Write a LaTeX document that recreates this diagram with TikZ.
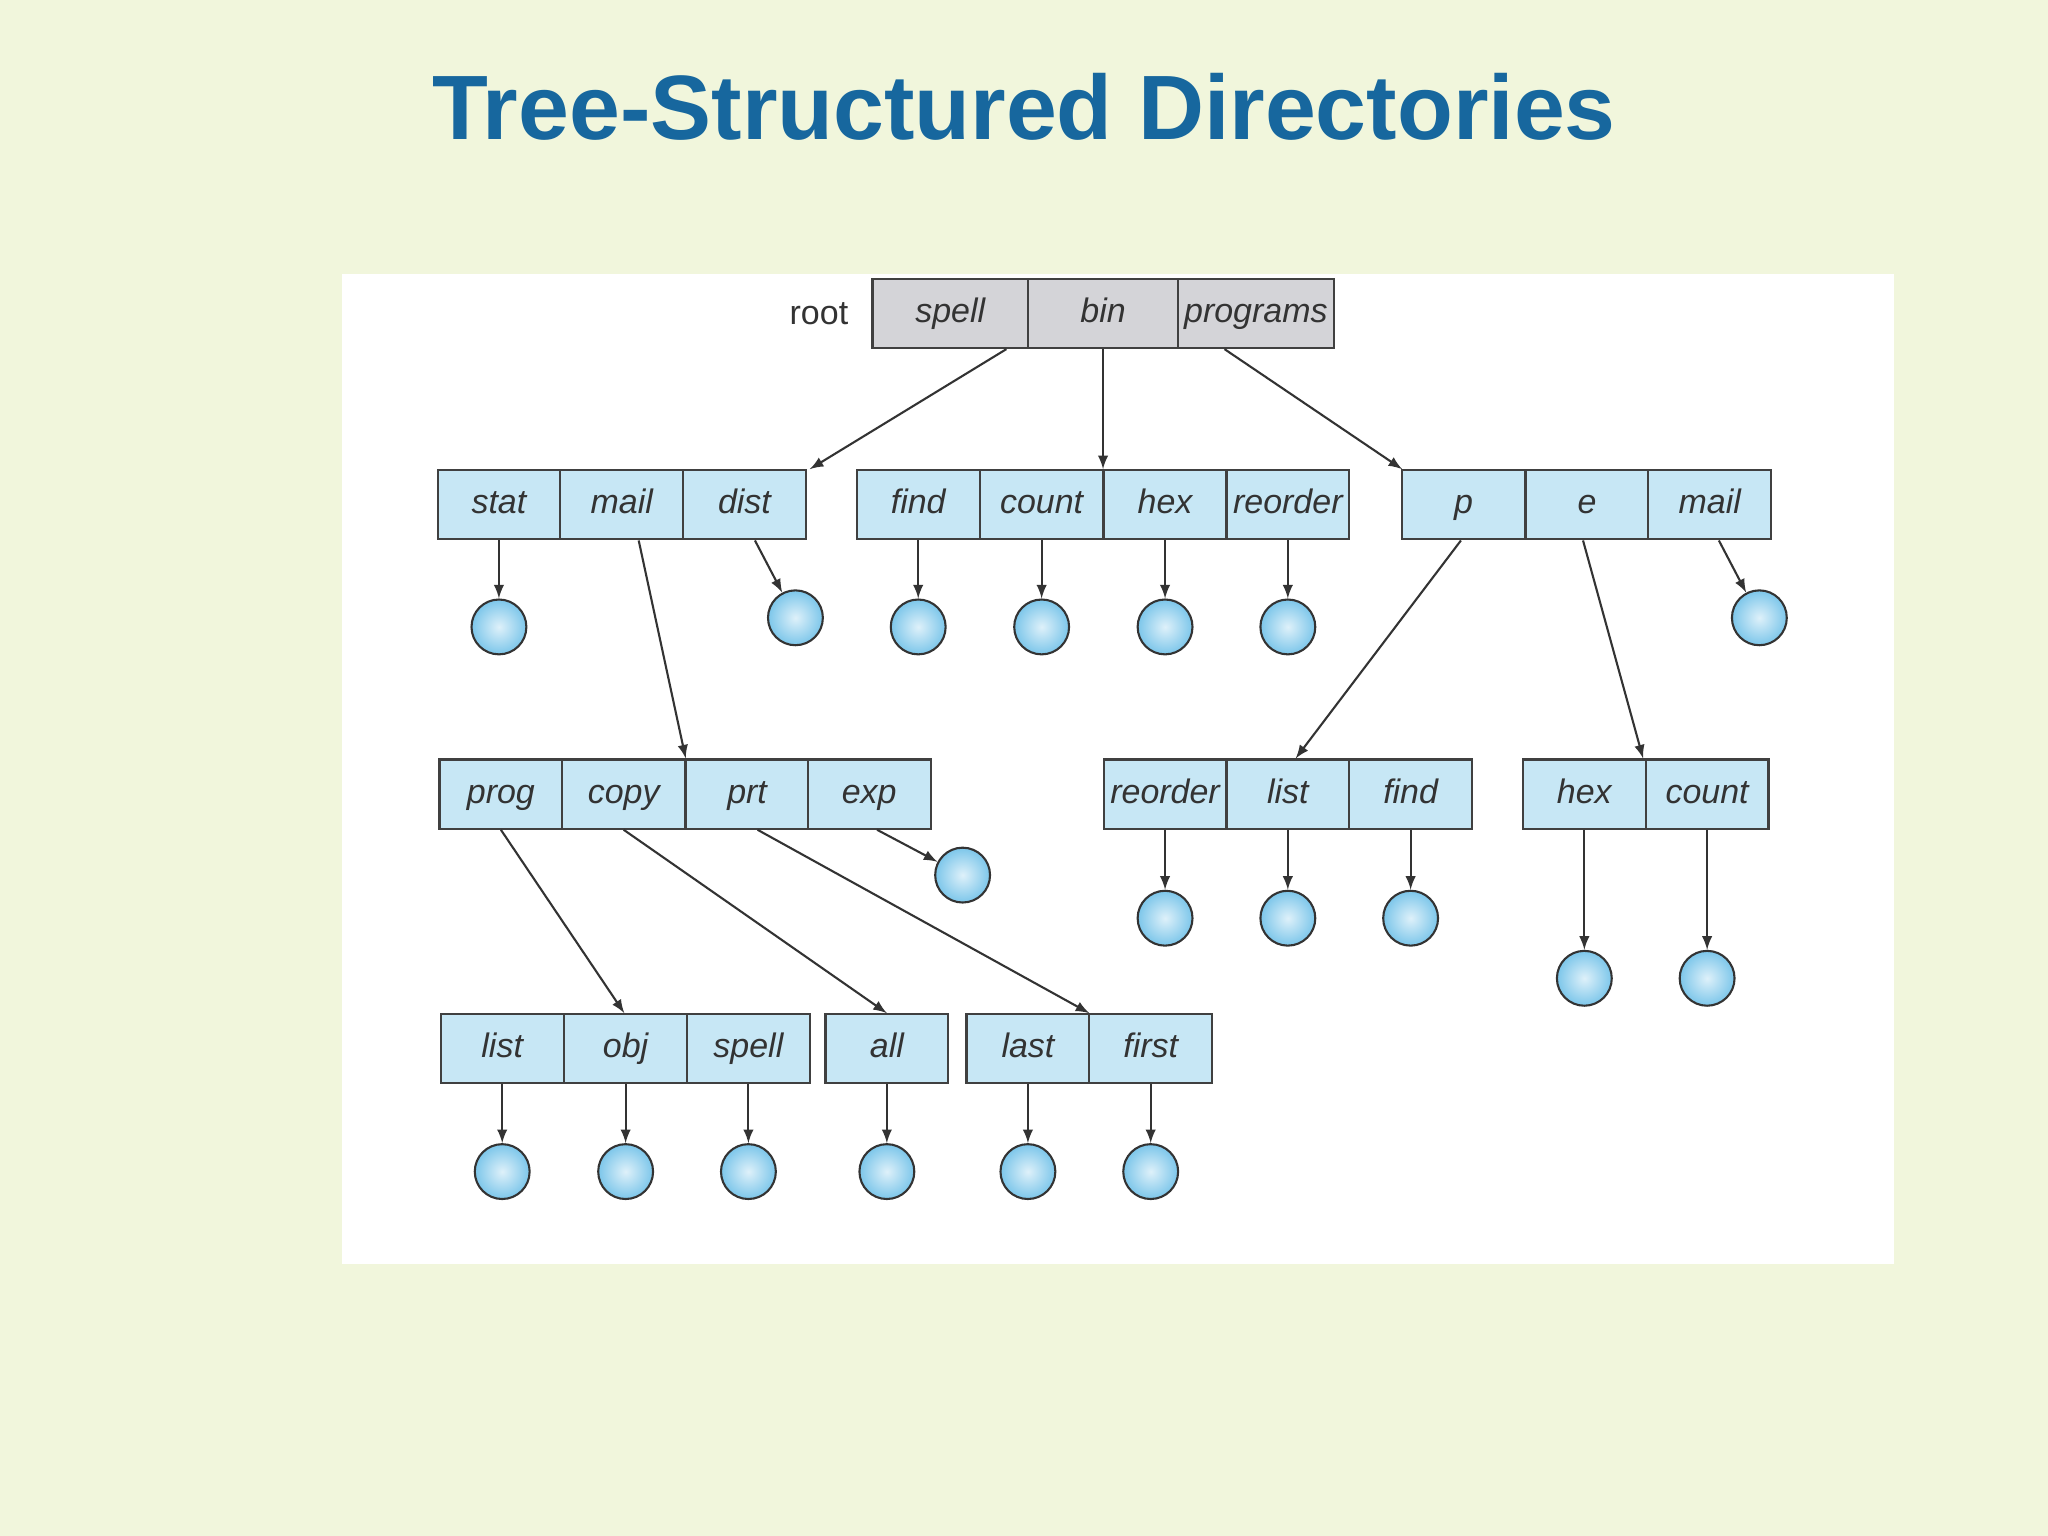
\documentclass[tikz,border=0pt]{standalone}
\usepackage{fontspec}
\setmainfont{Liberation Sans}
\usetikzlibrary{calc}
\definecolor{bgGreen}{HTML}{F1F6DC}
\definecolor{titleBlue}{HTML}{17679E}
\definecolor{cellBlue}{HTML}{C7E7F5}
\definecolor{fileBlue}{HTML}{7CC6EA}
\definecolor{rootGray}{HTML}{D4D4D8}
\tikzset{
  cell/.style={draw=black!75, line width=0.8pt, fill=cellBlue, minimum height=26.5pt,
    inner sep=0pt, text height=9.5pt, text depth=2.5pt,
    font=\itshape\fontsize{13}{13}\selectfont, text=black!80},
  rcell/.style={cell, fill=rootGray},
  file/.style={circle, draw=black!80, line width=0.8pt, minimum size=21pt, inner sep=0pt,
    inner color=fileBlue!25, outer color=fileBlue},
  arr/.style={-latex, line width=0.8pt, black!80}
}
\begin{document}
\begin{tikzpicture}[x=0.5pt, y=-0.5pt]
  \useasboundingbox (0,0) rectangle (1568,1176);
  \fill[bgGreen] (0,0) rectangle (1568,1176);
  \fill[white] (262,210) rectangle (1450,968);
  \node[font=\bfseries\fontsize{35}{35}\selectfont, text=titleBlue] (title) at (784,82) {Tree-Structured Directories};

  % root directory
  \node[font=\fontsize{13}{13}\selectfont, text=black!80] (rootlbl) at (627,240) {root};
  \node[rcell, minimum width=59.5pt] (rspell) at (727.5,240) {spell};
  \node[rcell, minimum width=57.5pt] (rbin) at (844.5,240) {bin};
  \node[rcell, minimum width=59.5pt] (rprog) at (961.5,240) {programs};

  % second level
  \foreach \n/\t/\x in {stat/stat/382, mailA/mail/476, dist/dist/570,
      findA/find/703, countA/count/797.5, hexA/hex/892, reorderA/reorder/986,
      p/p/1120.5, e/e/1215, mailB/mail/1309}
    \node[cell, minimum width=47pt] (\n) at (\x,386.5) {\t};

  % third level
  \foreach \n/\t/\x in {prog/prog/383.5, copy/copy/477.5, prt/prt/572, exp/exp/665.5,
      reorderB/reorder/892, listB/list/986, findB/find/1080,
      hexB/hex/1213, countB/count/1307}
    \node[cell, minimum width=47pt] (\n) at (\x,608) {\t};

  % fourth level
  \foreach \n/\t/\x in {listC/list/384.5, obj/obj/479, spellC/spell/573,
      all/all/679, last/last/787, first/first/881}
    \node[cell, minimum width=47pt] (\n) at (\x,803) {\t};

  % files
  \foreach \n/\x/\y in {fstat/382/480, fdist/609/473, ffindA/703/480, fcountA/797.5/480,
      fhexA/892/480, freorderA/986/480, fmailB/1347/473, fexp/737/670,
      freorderB/892/703, flistB/986/703, ffindB/1080/703, fhexB/1213/749, fcountB/1307/749,
      flistC/384.5/897, fobj/479/897, fspellC/573/897, fall/679/897, flast/787/897, ffirst/881/897}
    \node[file] (\n) at (\x,\y) {};

  % directory links
  \draw[arr] ($(rspell.south)+(43,0)$) -- ($(dist.north)+(50,0)$);
  \draw[arr] (rbin.south) -- ($(countA.north)+(47,0)$);
  \draw[arr] ($(rprog.south)+(-24,0)$) -- ($(p.north)+(-47,0)$);
  \draw[arr] ($(mailA.south)+(13,0)$) -- ($(prt.north)+(-47,0)$);
  \draw[arr] ($(p.south)+(-2,0)$) -- ($(listB.north)+(6,0)$);
  \draw[arr] ($(e.south)+(-3,0)$) -- ($(hexB.north)+(45,0)$);
  \draw[arr] (prog.south) -- ($(obj.north)+(-1,0)$);
  \draw[arr] (copy.south) -- (all.north);
  \draw[arr] ($(prt.south)+(8,0)$) -- ($(first.north)+(-47,0)$);

  % file links
  \foreach \d/\f in {stat/fstat, findA/ffindA, countA/fcountA, hexA/fhexA, reorderA/freorderA,
      reorderB/freorderB, listB/flistB, findB/ffindB, hexB/fhexB, countB/fcountB,
      listC/flistC, obj/fobj, spellC/fspellC, all/fall, last/flast, first/ffirst}
    \draw[arr] (\d.south) -- (\f.north);
  \draw[arr] ($(dist.south)+(8,0)$) -- (fdist);
  \draw[arr] ($(mailB.south)+(7,0)$) -- (fmailB);
  \draw[arr] ($(exp.south)+(6,0)$) -- (fexp);
\end{tikzpicture}
\end{document}
